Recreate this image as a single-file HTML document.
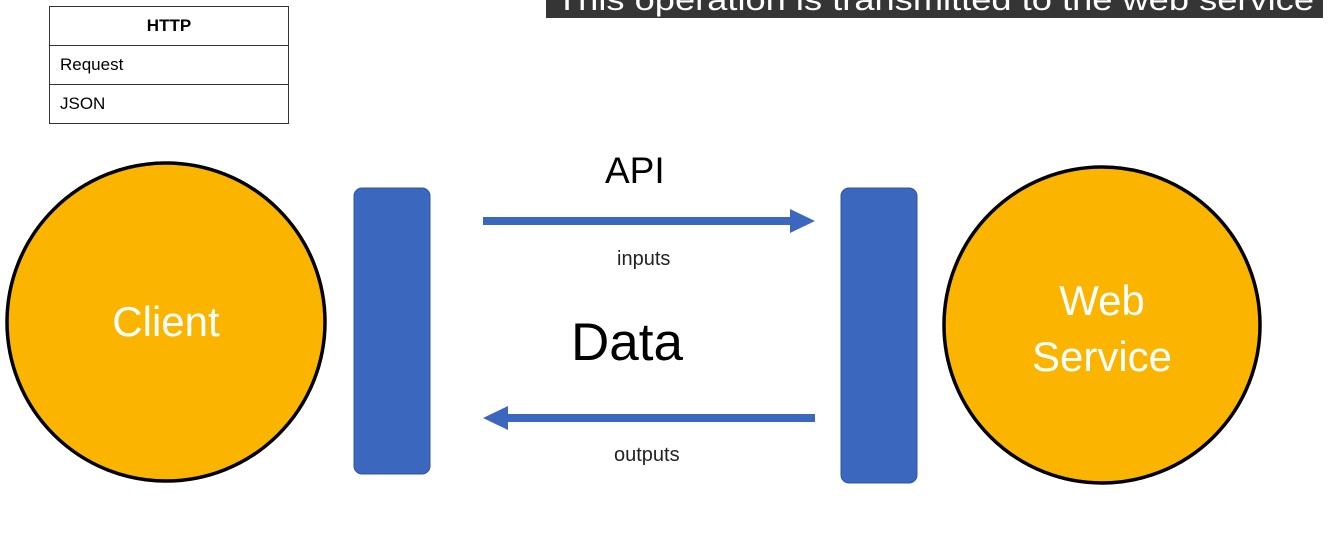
<!DOCTYPE html>
<html><head><meta charset="utf-8"><style>
body{margin:0;width:1333px;height:557px;background:#fff;position:relative;overflow:hidden;font-family:"Liberation Sans",sans-serif}
.t{position:absolute;white-space:nowrap}
</style></head><body>
<div style="position:absolute;left:546px;top:0;width:777px;height:18px;background:#353535;overflow:hidden">
<div class="t" style="left:10px;top:-17px;font-size:31px;color:#fff;line-height:34px;transform:scaleX(1.17);transform-origin:0 0">This operation is transmitted to the web service</div></div>
<div style="position:absolute;left:49px;top:6px;width:238px;height:116px;border:1.5px solid #333">
<div style="height:38px;border-bottom:1.5px solid #333;text-align:center;font-weight:bold;font-size:17px;line-height:38px">HTTP</div>
<div style="height:38px;border-bottom:1.5px solid #333;padding-left:10px;font-size:17px;line-height:38px">Request</div>
<div style="height:38px;padding-left:10px;font-size:17px;line-height:38px">JSON</div></div>
<svg width="1333" height="557" style="position:absolute;left:0;top:0">
<circle cx="166" cy="322" r="159" fill="#fbb500" stroke="#000" stroke-width="3.5"/>
<circle cx="1102" cy="325" r="158" fill="#fbb500" stroke="#000" stroke-width="3.5"/>
<rect x="354" y="188" width="76" height="286" rx="8" fill="#3b67bf" stroke="#2f55a0" stroke-width="1"/>
<rect x="841" y="188" width="76" height="295" rx="8" fill="#3b67bf" stroke="#2f55a0" stroke-width="1"/>
<rect x="483" y="217" width="310" height="8" fill="#3b67bf"/>
<polygon points="790,209 815,221 790,233" fill="#3b67bf"/>
<rect x="505" y="414" width="310" height="8" fill="#3b67bf"/>
<polygon points="508,406 483,418 508,430" fill="#3b67bf"/>
</svg>
<div class="t" style="left:86px;top:298px;width:160px;text-align:center;font-size:42px;color:#fff">Client</div>
<div class="t" style="left:1002px;top:273px;width:200px;text-align:center;font-size:42px;color:#fff;line-height:56px">Web<br>Service</div>
<div class="t" style="left:605px;top:150px;font-size:37px">API</div>
<div class="t" style="left:617px;top:248px;font-size:20px;color:#222">inputs</div>
<div class="t" style="left:571px;top:312px;font-size:53px">Data</div>
<div class="t" style="left:614px;top:444px;font-size:20px;color:#222">outputs</div>
</body></html>
